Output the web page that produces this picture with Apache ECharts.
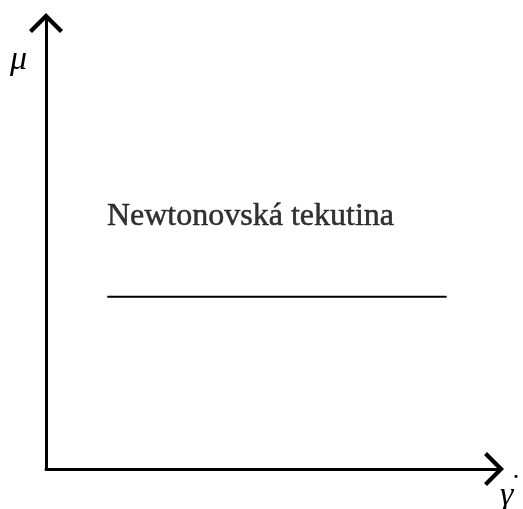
<!DOCTYPE html>
<html>
<head>
<meta charset="utf-8">
<style>
  html, body { margin: 0; padding: 0; background: #fff; }
  #chart { width: 523px; height: 509px; }
</style>
<script src="https://cdn.jsdelivr.net/npm/echarts@6/dist/echarts.min.js"></script>
</head>
<body>
<div id="chart"></div>
<script>
// Newtonian fluid: viscosity stays constant over the shear-rate range
const shearRate = [1.35, 8.8];
const viscosity = [3.8, 3.8];
const curveLabel = 'Newtonovská tekutina';
const yName = 'μ';
const xName = 'γ';
const xNameAccent = '˙';

const serif = '"Liberation Serif", "Times New Roman", serif';
// open chevron arrow head, tip pointing up (rotated by the axis)
const chevron = 'path://M0,17 L17,0 L34,17 L31,20 L17,6 L3,20 Z';

const axisLine = {
  show: true,
  onZero: false,
  symbol: ['none', chevron],
  symbolSize: [34, 20],
  symbolOffset: [0, -7],
  lineStyle: { color: '#000', width: 3 }
};

const chart = echarts.init(document.getElementById('chart'), null, { renderer: 'canvas' });

chart.setOption({
  animation: false,
  backgroundColor: '#fff',
  grid: { left: 46, right: 22, top: 16, bottom: 40, containLabel: false },
  xAxis: {
    type: 'value', min: 0, max: 10,
    axisLine: axisLine,
    axisTick: { show: false },
    axisLabel: { show: false },
    splitLine: { show: false }
  },
  yAxis: {
    type: 'value', min: 0, max: 10,
    axisLine: axisLine,
    axisTick: { show: false },
    axisLabel: { show: false },
    splitLine: { show: false }
  },
  graphic: [
    {
      type: 'text', left: 10, top: 43,
      style: { text: yName, fontFamily: serif, fontStyle: 'italic', fontSize: 34, fill: '#000' }
    },
    {
      type: 'text', left: 500, top: 479,
      style: { text: xName, fontFamily: serif, fontStyle: 'italic', fontSize: 34, fill: '#000' }
    },
    {
      type: 'text', left: 511, top: 472,
      style: { text: xNameAccent, fontFamily: serif, fontSize: 30, fill: '#000' }
    }
  ],
  series: [{
    type: 'line',
    data: shearRate.map((x, i) => [x, viscosity[i]]),
    symbol: 'circle',
    symbolSize: 1,
    showSymbol: true,
    itemStyle: { color: '#000' },
    lineStyle: { color: '#000', width: 2 },
    silent: true
  }, {
    type: 'scatter',
    data: [[shearRate[0], viscosity[0]]],
    symbolSize: 1,
    itemStyle: { color: 'rgba(0,0,0,0)' },
    label: {
      show: true,
      formatter: curveLabel,
      position: [0, -80],
      align: 'left',
      verticalAlign: 'middle',
      fontFamily: serif,
      fontSize: 32,
      color: '#000',
      textBorderColor: '#000',
      textBorderWidth: 0.5
    },
    silent: true
  }]
});
</script>
</body>
</html>
